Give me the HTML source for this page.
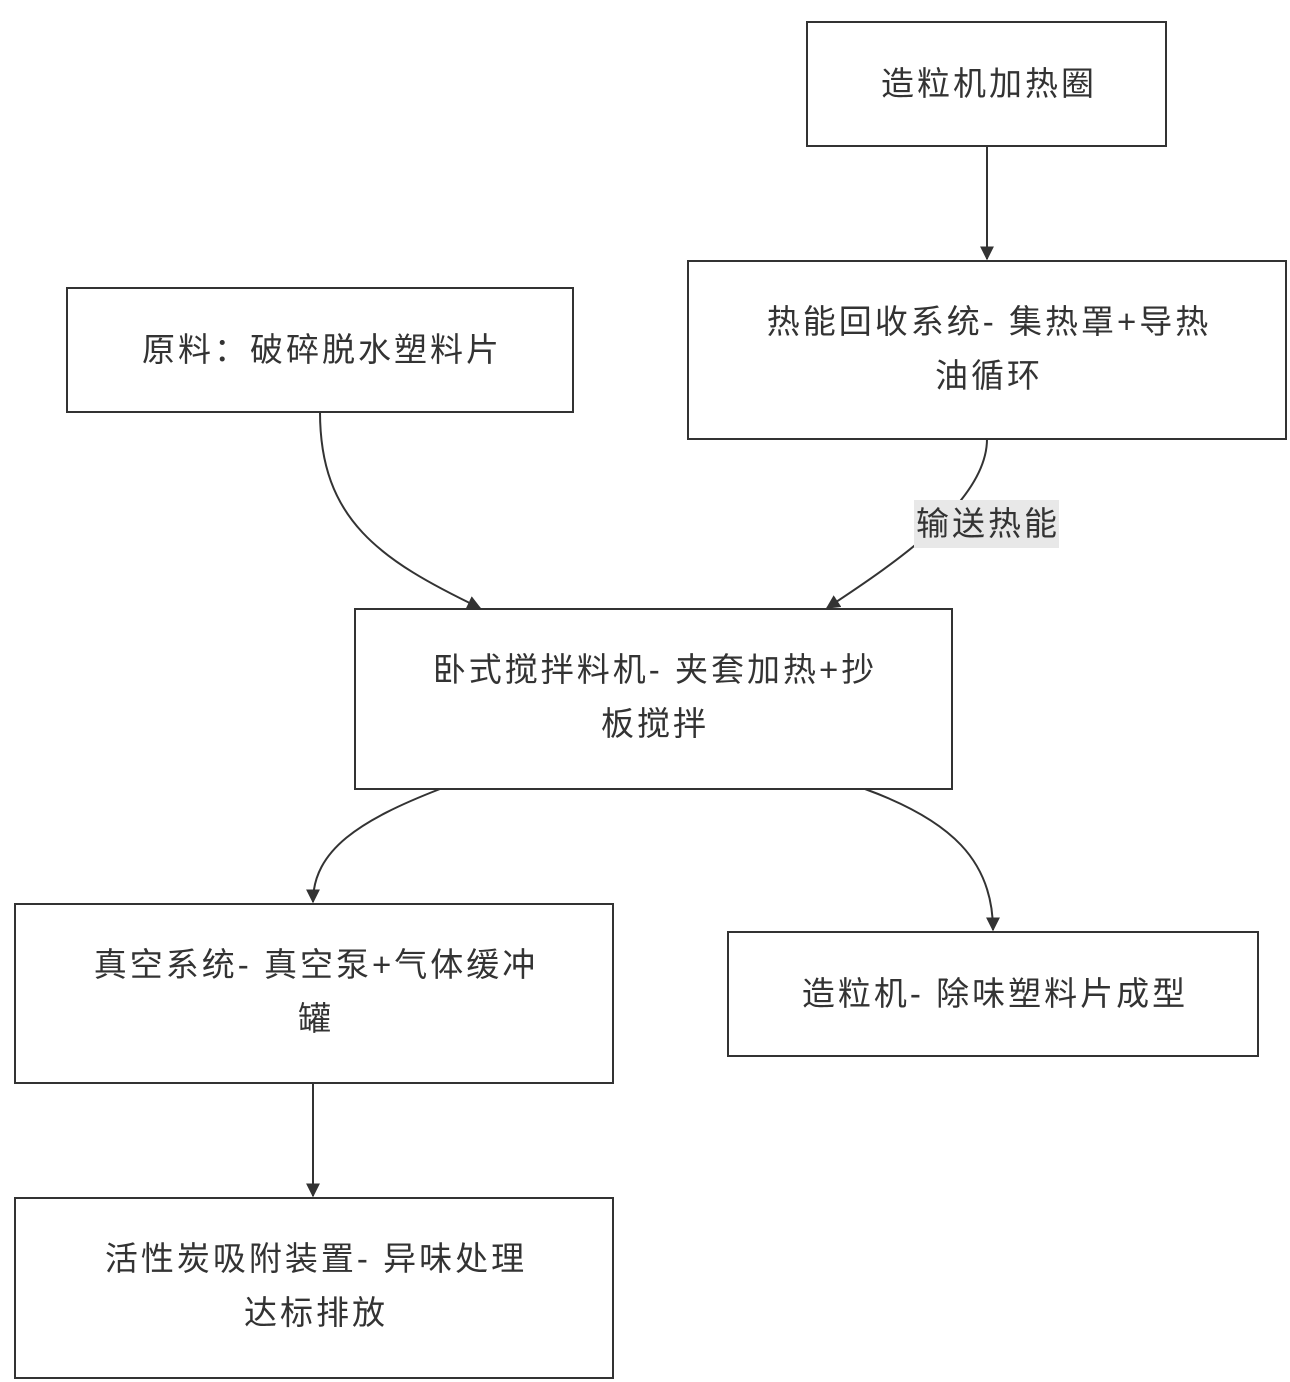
<!DOCTYPE html>
<html><head><meta charset="utf-8"><style>
html,body{margin:0;padding:0;background:#fff;}
svg{display:block;}
text{font-family:"Liberation Sans","Noto Sans CJK SC",sans-serif;font-size:33px;letter-spacing:3px;fill:#333;}
</style></head><body>
<svg width="1290" height="1382" viewBox="0 0 1290 1382" xmlns="http://www.w3.org/2000/svg">
<defs><marker id="a" viewBox="0 0 10 10" refX="9" refY="5" markerWidth="7" markerHeight="7" orient="auto"><path d="M0,0L10,5L0,10z" fill="#333"/></marker></defs>
<g fill="none" stroke="#333" stroke-width="2">
<rect x="807" y="22" width="359" height="124"/>
<rect x="688" y="261" width="598" height="178"/>
<rect x="67" y="288" width="506" height="124"/>
<rect x="355" y="609" width="597" height="180"/>
<rect x="15" y="904" width="598" height="179"/>
<rect x="728" y="932" width="530" height="124"/>
<rect x="15" y="1198" width="598" height="180"/>
<path d="M987,146 L987,259" marker-end="url(#a)"/>
<path d="M320,412 C320,520 380,560 480,608" marker-end="url(#a)"/>
<path d="M987,439 C987,500 900,560 827,608" marker-end="url(#a)"/>
<path d="M440,789 C360,820 313,850 313,902" marker-end="url(#a)"/>
<path d="M865,789 C950,820 993,860 993,930" marker-end="url(#a)"/>
<path d="M313,1083 L313,1196" marker-end="url(#a)"/>
</g>
<rect x="914" y="500" width="145" height="48" fill="#e8e8e8"/>
<g text-anchor="middle">
<text x="989" y="95">造粒机加热圈</text>
<text x="989" y="333">热能回收系统- 集热罩+导热</text>
<text x="989" y="387">油循环</text>
<text x="322" y="361">原料：破碎脱水塑料片</text>
<text x="988" y="535">输送热能</text>
<text x="655" y="681">卧式搅拌料机- 夹套加热+抄</text>
<text x="655" y="735">板搅拌</text>
<text x="316" y="976">真空系统- 真空泵+气体缓冲</text>
<text x="316" y="1030">罐</text>
<text x="995" y="1005">造粒机- 除味塑料片成型</text>
<text x="316" y="1270">活性炭吸附装置- 异味处理</text>
<text x="316" y="1324">达标排放</text>
</g>
</svg>
</body></html>
